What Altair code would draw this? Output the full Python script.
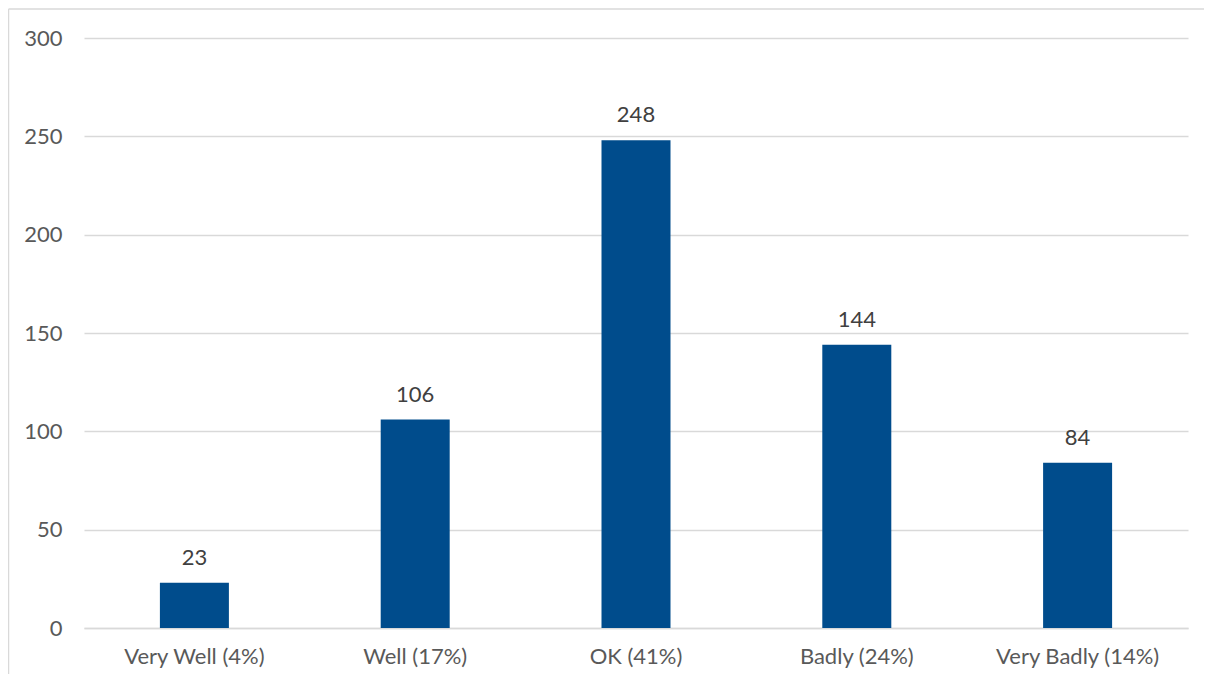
import altair as alt
import pandas as pd

categories = ["Very Well (4%)", "Well (17%)", "OK (41%)", "Badly (24%)", "Very Badly (14%)"]
values = [23, 106, 248, 144, 84]

df = pd.DataFrame({"category": categories, "value": values})

W, H = 1104, 590
PAD_L, PAD_T, PAD_R, PAD_B = 76, 30, 16, 46
FONT = "Lato"
GREY = "#595959"
BAR = "#004C8C"

base = alt.Chart(df)

bars = base.mark_bar(color=BAR).encode(
    x=alt.X("category:N", sort=categories, title=None,
            scale=alt.Scale(paddingInner=0.6875, paddingOuter=0.34375),
            axis=alt.Axis(labelAngle=0, labelFont=FONT, labelFontSize=22, labelColor=GREY,
                          labelPadding=18, ticks=False, domainColor="#d9d9d9", domainWidth=1.5,
                          grid=False)),
    y=alt.Y("value:Q", title=None,
            scale=alt.Scale(domain=[0, 300]),
            axis=alt.Axis(values=[0, 50, 100, 150, 200, 250, 300], labelFont=FONT, labelFontSize=22,
                          labelColor=GREY, labelPadding=22, ticks=False, domain=False,
                          gridColor="#d9d9d9", gridWidth=1.5)),
)

labels = base.mark_text(font=FONT, fontSize=22, color="#404040", baseline="alphabetic", dy=-18).encode(
    x=alt.X("category:N", sort=categories),
    y="value:Q",
    text="value:Q",
)

one = pd.DataFrame({"a": [0]})
top_edge = alt.Chart(one).mark_rule(stroke="#d9d9d9", strokeWidth=1.5).encode(
    x=alt.value(-PAD_L + 0.5), x2=alt.value(W + PAD_R), y=alt.value(-PAD_T + 1)
)
left_edge = alt.Chart(one).mark_rule(stroke="#d9d9d9", strokeWidth=1.5).encode(
    x=alt.value(-PAD_L + 0.5), y=alt.value(-PAD_T + 1), y2=alt.value(H + PAD_B)
)

chart = alt.layer(top_edge, left_edge, bars, labels).properties(
    width=W, height=H,
    background="white",
    autosize=alt.AutoSizeParams(type="none"),
    padding={"left": PAD_L, "top": PAD_T, "right": PAD_R, "bottom": PAD_B},
).configure_view(strokeWidth=0, stroke="transparent")

chart.save("out.html", embed_options={"renderer": "svg", "actions": False})
